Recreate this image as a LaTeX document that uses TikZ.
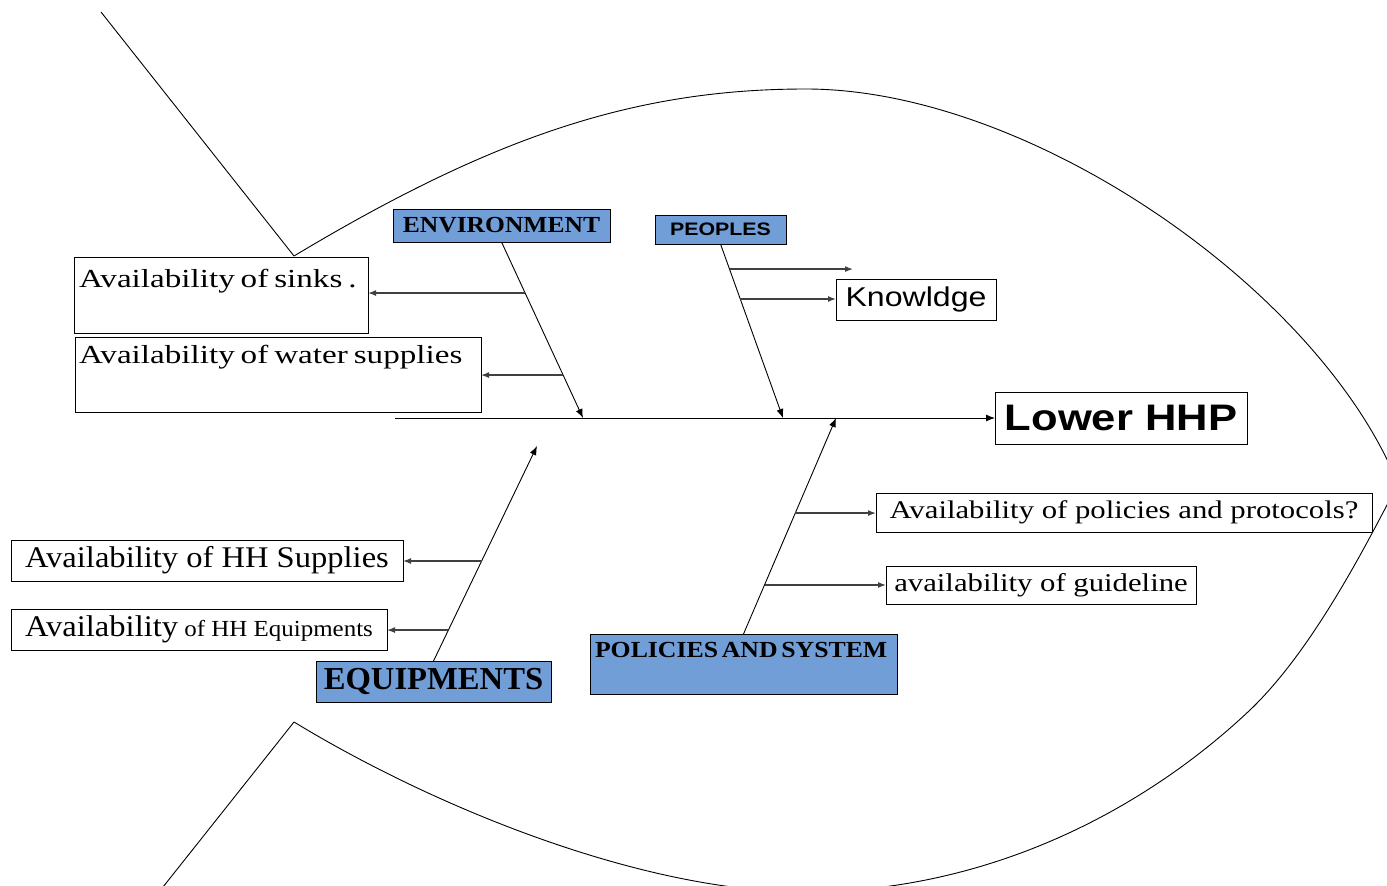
\documentclass[tikz,border=0pt]{standalone}
\usepackage{fontspec}
\usepackage{graphicx}
\setmainfont{Liberation Serif}
\newfontfamily\sanA{Liberation Sans}
\newcommand{\hstr}[2]{\scalebox{#1}[1]{#2}}
\usetikzlibrary{arrows.meta,calc}
\definecolor{catblue}{RGB}{114,158,216}
\tikzset{
  box/.style={draw=black, line width=0.8pt, inner sep=0pt, outer sep=0pt},
  cat/.style={box, fill=catblue},
  branch/.style={line width=0.9pt, -{Latex[length=9pt,width=7pt]}},
  sub/.style={line width=1.3pt, draw=black!75, -{Latex[length=8pt,width=6pt]}},
  outline/.style={line width=0.9pt},
}
\begin{document}
\begin{tikzpicture}[x=1pt,y=-1pt]
\useasboundingbox (0,0) rectangle (1387,886);
% fish outline
\begin{scope}
\clip (0,0) rectangle (1387,886);
\draw[outline] (101,12) -- (294,256);
\draw[outline] (294,256) .. controls (494,136) and (636,89) .. (806,89)
  .. controls (1030,89) and (1320,290) .. (1398,484);
\draw[outline] (1398,484) .. controls (1370,537) and (1315,648) .. (1250,710)
  .. controls (1141,813) and (985,892) .. (805,892)
  .. controls (645,892) and (439,810) .. (294,722);
\draw[outline] (294,722) -- (163,887);
\end{scope}

% category boxes
\node[cat, minimum width=217pt, minimum height=33pt] (env) at (501.5,225.5)
  {\hstr{1.11}{\bfseries\fontsize{23}{27}\selectfont ENVIRONMENT}};
\node[cat, minimum width=131pt, minimum height=29pt] (peo) at (720.5,229.5)
  {\hstr{1.18}{\sanA\bfseries\fontsize{18.1}{22}\selectfont PEOPLES}};
\node[cat, minimum width=235pt, minimum height=41pt] (equ) at (433.5,681.5)
  {\hstr{1.02}{\bfseries\fontsize{32}{38}\selectfont EQUIPMENTS}};
\node[cat, anchor=north west, inner xsep=5pt, text width=297pt, text height=23pt, text depth=37pt, align=left] (pol) at (590,634)
  {\hstr{1.12}{\bfseries\fontsize{23}{27}\selectfont POLICIES AND SYSTEM}};

% effect
\node[box, minimum width=252pt, minimum height=52pt] (low) at (1121,418)
  {\hstr{1.18}{\sanA\bfseries\fontsize{36.9}{42}\selectfont Lower HHP}};

% cause boxes
\node[box, anchor=north west, inner xsep=5pt, text width=284pt, text height=30pt, text depth=46pt, align=left] (sinks) at (74,257)
  {\hstr{1.274}{\fontsize{26}{30}\selectfont\spaceskip=0.18em Availability of sinks .}};
\node[box, anchor=north west, inner xsep=4pt, text width=398pt, text height=26pt, text depth=49pt, align=left] (water) at (75,337)
  {\hstr{1.274}{\fontsize{26}{30}\selectfont\spaceskip=0.18em Availability of water supplies}};
\node[box, minimum width=160pt, minimum height=41pt] (know) at (916,299.5)
  {\hstr{1.18}{\sanA\fontsize{27.2}{32}\selectfont Knowldge}};
\node[box, minimum width=496pt, minimum height=39pt] (polp) at (1124,512.5)
  {\hstr{1.21}{\fontsize{25.4}{30}\selectfont Availability of policies and protocols?}};
\node[box, minimum width=310pt, minimum height=38pt] (guid) at (1041,585)
  {\hstr{1.2}{\fontsize{25.6}{30}\selectfont availability of guideline}};
\node[box, minimum width=392pt, minimum height=41pt] (hhs) at (207,560.5)
  {\hstr{1.085}{\fontsize{30}{35}\selectfont Availability of HH Supplies}};
\node[box, minimum width=376pt, minimum height=41pt] (hhe) at (199,629.5)
  {\hstr{1.085}{\fontsize{30}{35}\selectfont Availability{\fontsize{23}{28}\selectfont\ of HH Equipments}}};

% spine
\coordinate (spine) at (395,418);
\draw[branch] (spine) -- (low.west);

% environment
\coordinate (envtip) at (583,418);
\draw[branch] (env.south) -- (envtip);
\coordinate (e1) at ($(env.south)!0.29!(envtip)$);
\coordinate (e2) at ($(env.south)!0.756!(envtip)$);
\draw[sub] (e1) -- (e1 -| sinks.east);
\draw[sub] (e2) -- (e2 -| water.east);

% peoples
\coordinate (ptip) at (783,418);
\draw[branch] (peo.south) -- (ptip);
\coordinate (p1) at ($(peo.south)!0.144!(ptip)$);
\coordinate (p2) at ($(peo.south)!0.316!(ptip)$);
\coordinate (pfree) at (853,269);
\draw[sub] (p1) -- (p1 -| pfree);
\draw[sub] (p2) -- (p2 -| know.west);

% equipments
\coordinate (qtip) at (537,446);
\draw[branch] (equ.north) -- (qtip);
\coordinate (q1) at ($(equ.north)!0.465!(qtip)$);
\coordinate (q2) at ($(equ.north)!0.144!(qtip)$);
\draw[sub] (q1) -- (q1 -| hhs.east);
\draw[sub] (q2) -- (q2 -| hhe.east);

% policies
\coordinate (stip) at (836,418);
\draw[branch] (pol.north) -- (stip);
\coordinate (s1) at ($(pol.north)!0.56!(stip)$);
\coordinate (s2) at ($(pol.north)!0.227!(stip)$);
\draw[sub] (s1) -- (s1 -| polp.west);
\draw[sub] (s2) -- (s2 -| guid.west);
\end{tikzpicture}
\end{document}
